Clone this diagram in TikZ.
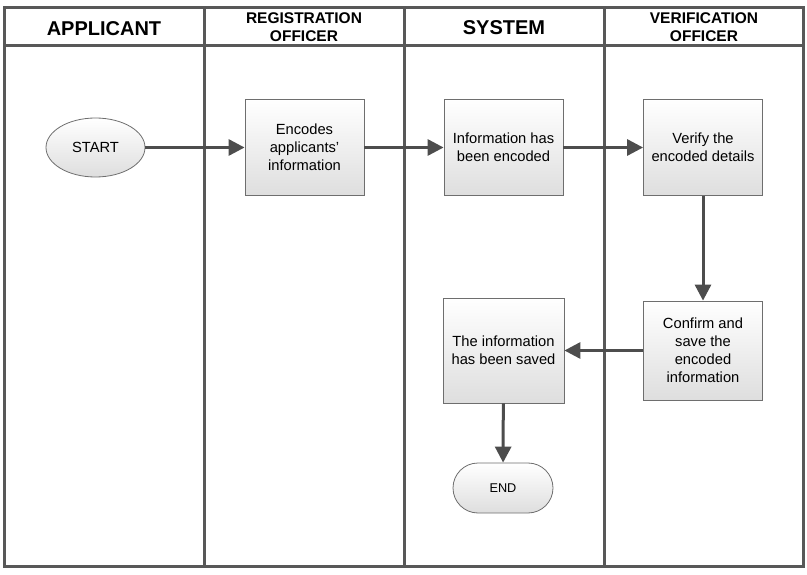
\documentclass[tikz,border=0pt]{standalone}
\usepackage{fontspec}
\setmainfont{Liberation Sans}
\usetikzlibrary{arrows.meta,shapes.geometric,shapes.misc}
\definecolor{lanegray}{HTML}{585858}
\definecolor{boxgray}{HTML}{6E6E6E}
\definecolor{boxfill}{HTML}{DEDEDE}
\definecolor{flowgray}{HTML}{4D4D4D}

\begin{document}
\begin{tikzpicture}
	[x=1pt,y=-1pt,->,>={Triangle[length=16pt,width=16pt]},
		flow/.style={draw=flowgray,fill=flowgray,line width=3pt},
		lane/.style={draw=lanegray,line width=3pt,-},
		head node/.style={font=\bfseries\fontsize{20}{22}\selectfont,align=center},
		small head node/.style={font=\bfseries\fontsize{15.5}{18.5}\selectfont,align=center},
		task node/.style={rectangle,draw=boxgray,line width=0.8pt,top color=white,bottom color=boxfill,
			minimum width=119pt,minimum height=96pt,align=center,inner sep=2pt,
			font=\fontsize{14.7}{18}\selectfont},
		start node/.style={ellipse,draw=boxgray,line width=0.8pt,top color=white,bottom color=boxfill,
			minimum width=99pt,minimum height=59pt,inner sep=0pt,font=\fontsize{14.7}{18}\selectfont},
		end node/.style={rounded rectangle,draw=boxgray,line width=0.8pt,top color=white,bottom color=boxfill,
			minimum width=100pt,minimum height=50pt,inner sep=0pt,font=\fontsize{12.7}{15}\selectfont}]

	\useasboundingbox (0,0) rectangle (807,575);

	% swimlanes
	\draw[lane] (4,8) rectangle (803,566);
	\draw[lane] (4,46) -- (803,46);
	\foreach \x in {204,404,604}
		\draw[lane] (\x,8) -- (\x,566);

	\node[head node]        (applicant)    at (104,29)  {APPLICANT};
	\node[small head node]  (registration) at (304,27)  {REGISTRATION\\OFFICER};
	\node[head node]        (system)       at (504,28)  {SYSTEM};
	\node[small head node]  (verification) at (704,27)  {VERIFICATION\\OFFICER};

	\node[start node]  (start)    at (95.5,147.5)  {START};
	\node[task node]   (encodes)  at (304.5,147.5) {Encodes\\applicants'\\information};
	\node[task node]   (encoded)  at (503.5,147.5) {Information has\\been encoded};
	\node[task node]   (verify)   at (703,147.5)   {Verify the\\encoded details};
	\node[task node,minimum height=99pt]  (confirm)  at (703,350.5)  {Confirm and\\save the\\encoded\\information};
	\node[task node,minimum width=121pt,minimum height=105pt]  (saved)  at (503.5,350.5)  {The information\\has been saved};
	\node[end node]    (finish)   at (503,488)     {END};

	\path[flow]
	(start)   edge  (encodes)
	(encodes) edge  (encoded)
	(encoded) edge  (verify)
	(verify)  edge  (confirm)
	(confirm) edge  (saved)
	(saved)   edge  (finish)
	;

\end{tikzpicture}
\end{document}
